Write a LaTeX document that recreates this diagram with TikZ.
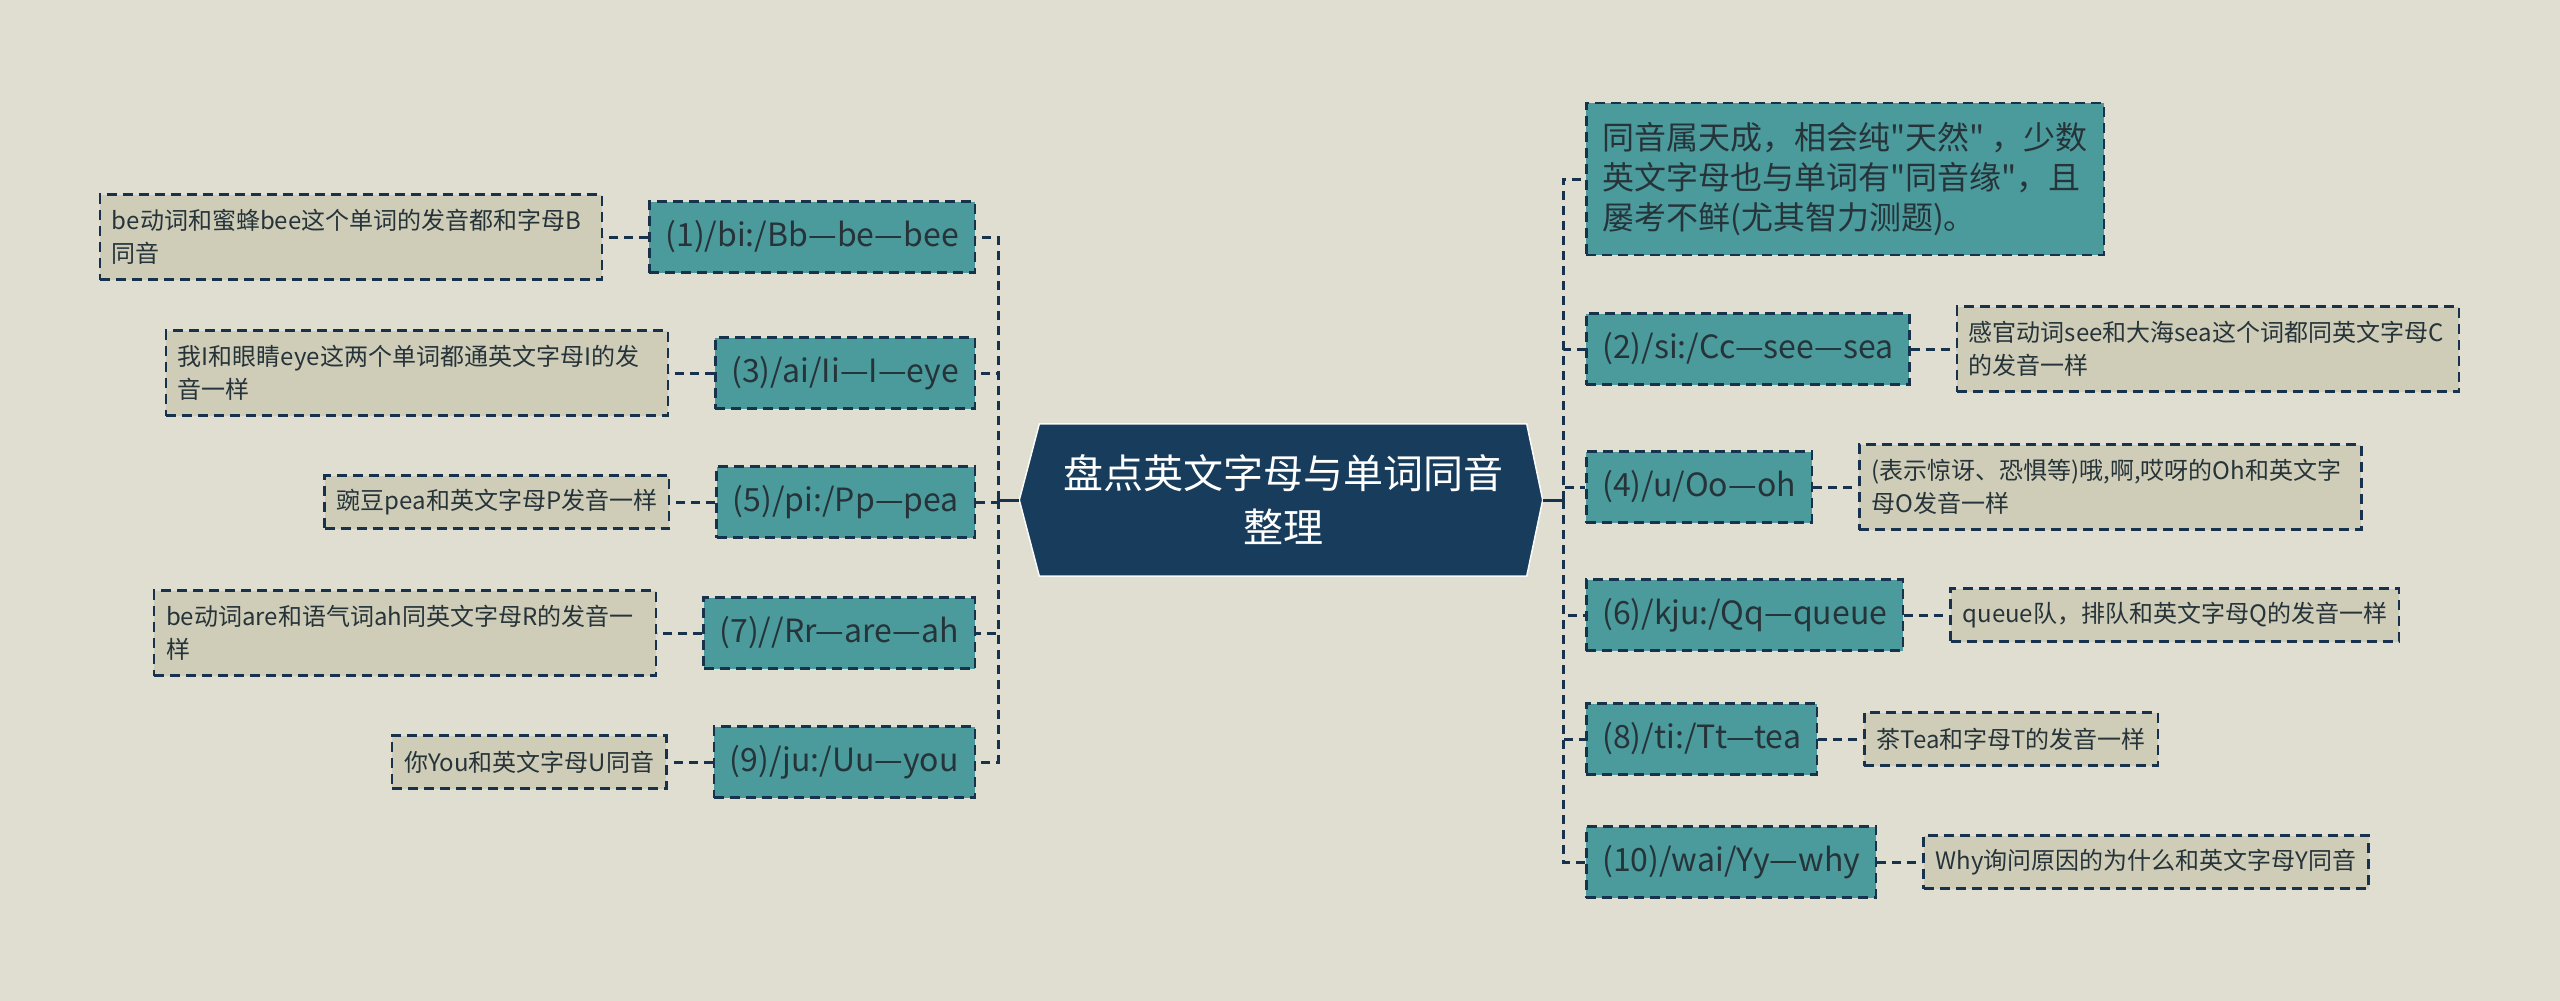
\documentclass[tikz,border=0pt]{standalone}
\usepackage{fontspec}
\setmainfont{Noto Sans CJK SC}[Ligatures=TeXOff]
\usepackage{tikz}
\usetikzlibrary{positioning,backgrounds,calc}
\definecolor{bgpaper}{HTML}{E0DED0}
\definecolor{hubnavy}{HTML}{173C5C}
\definecolor{topicteal}{HTML}{4B9A9C}
\definecolor{leafsand}{HTML}{CFCDB8}
\definecolor{linenavy}{HTML}{17324D}
\definecolor{inkdark}{HTML}{26343A}

\begin{document}
\begin{tikzpicture}[x=1pt,y=-1pt,>=latex]
%===DEF. STYLES====
\tikzset{hub/.style ={text=white, font=\fontsize{40}{54}\selectfont, align=center, minimum width=487pt, minimum height=152pt, inner sep=0pt},
 topic/.style ={fill=topicteal, draw=linenavy, line width=2.5pt, dash pattern=on 10pt off 6pt, text=inkdark, font=\fontsize{32}{40}\selectfont, inner xsep=16pt, minimum height=71pt},
 leaf/.style ={fill=leafsand, draw=linenavy, line width=2.5pt, dash pattern=on 10pt off 6pt, text=inkdark, font=\fontsize{24}{33}\selectfont, align=left, inner xsep=12pt, minimum height=53pt},
 twoline/.style ={text width=478pt, minimum height=85pt},
 link/.style ={draw=linenavy, line width=3pt, dash pattern=on 9pt off 6pt},
 stub/.style ={draw=linenavy, line width=3pt}}
%===background===
\begin{pgfonlayer}{background}
\fill[bgpaper] (0,0) rectangle (2560,1001);
\end{pgfonlayer}
\useasboundingbox (0,0) rectangle (2560,1001);
%===central topic===
\node[hub] (hub) at (1283,500) {盘点英文字母与单词同音\\整理};
\begin{pgfonlayer}{background}
\fill[hubnavy, draw=white!85!bgpaper, line width=1.5pt] (hub.north west) -- (hub.north east) -- ([xshift=16pt]hub.east) -- (hub.south east) -- (hub.south west) -- ([xshift=-20pt]hub.west) -- cycle;
\end{pgfonlayer}
\coordinate (hl) at ([xshift=-20pt]hub.west);
\coordinate (hr) at ([xshift=16pt]hub.east);
\coordinate (sl) at (998,500);
\coordinate (sr) at (1563,500);
%===left topics===
\node[topic, anchor=east] (L1) at (976,237) {(1)/bi:/Bb—be—bee};
\node[topic, anchor=east] (L3) at (976,373) {(3)/ai/Ii—I—eye};
\node[topic, anchor=east] (L5) at (976,502) {(5)/pi:/Pp—pea};
\node[topic, anchor=east] (L7) at (976,633) {(7)//Rr—are—ah};
\node[topic, anchor=east] (L9) at (976,762) {(9)/ju:/Uu—you};
%===left leaves===
\node[leaf, twoline, left=45pt of L1] (LL1) {be动词和蜜蜂bee这个单词的发音都和字母B\\同音};
\node[leaf, twoline, left=45pt of L3] (LL3) {我I和眼睛eye这两个单词都通英文字母I的发\\音一样};
\node[leaf, left=45pt of L5] (LL5) {豌豆pea和英文字母P发音一样};
\node[leaf, twoline, left=45pt of L7] (LL7) {be动词are和语气词ah同英文字母R的发音一\\样};
\node[leaf, left=45pt of L9] (LL9) {你You和英文字母U同音};
%===right topics===
\node[topic, anchor=west, align=left, minimum height=152pt] (R0) at (1585,179) {同音属天成，相会纯"天然" ，少数\\英文字母也与单词有"同音缘"，且\\屡考不鲜(尤其智力测题)。};
\node[topic, anchor=west] (R2) at (1585,349) {(2)/si:/Cc—see—sea};
\node[topic, anchor=west] (R4) at (1585,487) {(4)/u/Oo—oh};
\node[topic, anchor=west] (R6) at (1585,615) {(6)/kju:/Qq—queue};
\node[topic, anchor=west] (R8) at (1585,739) {(8)/ti:/Tt—tea};
\node[topic, anchor=west] (R10) at (1585,862) {(10)/wai/Yy—why};
%===right leaves===
\node[leaf, twoline, right=45pt of R2] (RL2) {感官动词see和大海sea这个词都同英文字母C\\的发音一样};
\node[leaf, twoline, right=45pt of R4] (RL4) {(表示惊讶、恐惧等)哦,啊,哎呀的Oh和英文字\\母O发音一样};
\node[leaf, right=45pt of R6] (RL6) {queue队，排队和英文字母Q的发音一样};
\node[leaf, right=45pt of R8] (RL8) {茶Tea和字母T的发音一样};
\node[leaf, right=45pt of R10] (RL10) {Why询问原因的为什么和英文字母Y同音};
%===stubs===
\draw[stub] (hl) -- (sl);
\draw[stub] (hr) -- (sr);
%===spine links===
\foreach \n in {L1,L3,L5,L7,L9} \draw[link] (sl) |- (\n.east);
\foreach \n in {R0,R2,R4,R6,R8,R10} \draw[link] (sr) |- (\n.west);
%===leaf links===
\foreach \n in {1,3,5,7,9} \draw[link] (L\n.west) -- (LL\n.east);
\foreach \n in {2,4,6,8,10} \draw[link] (R\n.east) -- (RL\n.west);
\end{tikzpicture}
\end{document}
